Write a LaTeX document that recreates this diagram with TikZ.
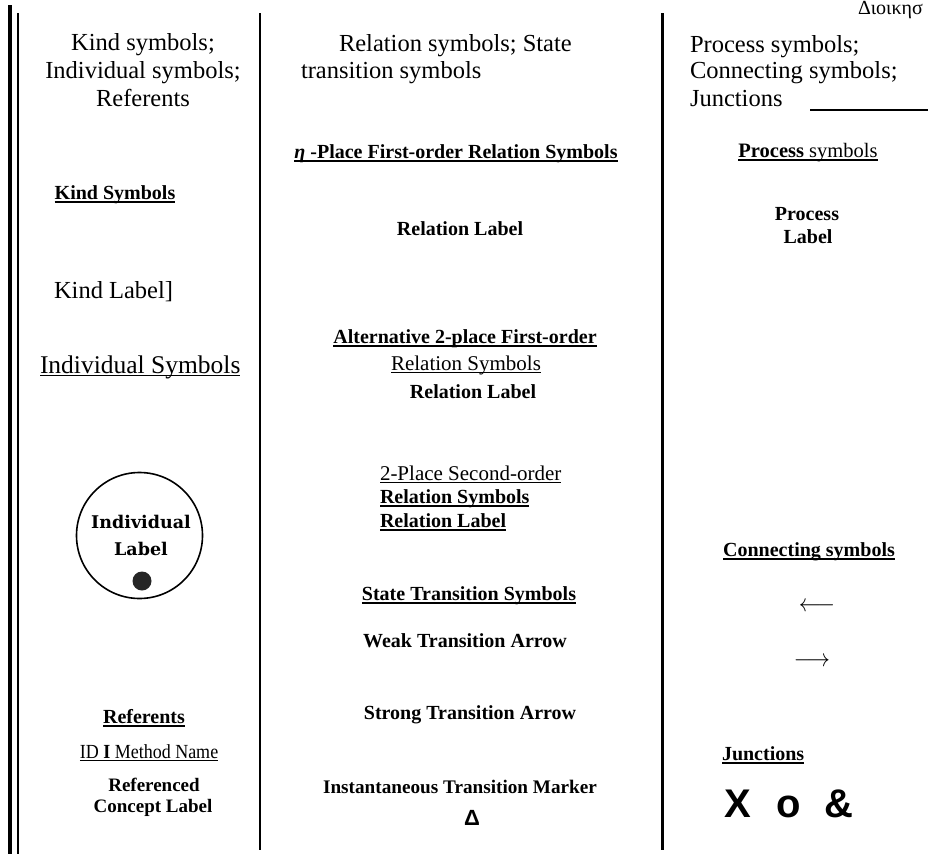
\documentclass[tikz,border=0pt]{standalone}
\usepackage{fontspec}
\usepackage{graphicx}
\setmainfont{Liberation Serif}
\newfontfamily\arialfont{Liberation Sans}
\newfontfamily\slabfont{DejaVu Serif}

% underlines drawn at a fixed distance below the baseline
\newsavebox\ulinebox
\newcommand\ulb[1]{\sbox\ulinebox{#1}\rlap{\rule[-4pt]{\wd\ulinebox}{2pt}}\usebox\ulinebox}
\newcommand\ulr[1]{\sbox\ulinebox{#1}\rlap{\rule[-3.4pt]{\wd\ulinebox}{1.3pt}}\usebox\ulinebox}

\newcommand\hdsize{\fontsize{24.5}{27.5}\selectfont}
\newcommand\bsize{\bfseries\fontsize{20}{22}\selectfont}
\newcommand\rsize{\fontsize{21}{23}\selectfont}

\begin{document}
\begin{tikzpicture}[x=1pt,y=-1pt,
  txt/.style={inner sep=0pt, outer sep=0pt, anchor=base},
  txtw/.style={txt, anchor=base west},
  hd/.style={font=\hdsize},
  bld/.style={font=\bsize},
  reg/.style={font=\rsize},
  colline/.style={line width=2.4pt, line cap=butt},
  junction/.style={txtw, font=\arialfont\bfseries\fontsize{40}{42}\selectfont},
  arrowglyph/.style={inner sep=0pt, outer sep=0pt, anchor=center, font=\fontsize{27}{29}\selectfont}]

\useasboundingbox (0,0) rectangle (935,854);
\fill[white] (0,0) rectangle (935,854);

% column rules
\draw[line width=4pt, line cap=butt] (10.3,5) -- (10.3,854);
\draw[line width=1.8pt, line cap=butt] (17.7,13) -- (17.7,854);
\draw[colline] (259.7,13) -- (259.7,850);
\draw[colline] (662.5,13) -- (662.5,850);

% running text in the top corner
\node[txtw, font=\fontsize{20}{22}\selectfont] (greek) at (858,14) {Διοικησ};

% ---------- headings ----------
\node[txt, hd] (h1a) at (143,50) {Kind symbols;};
\node[txt, hd] (h1b) at (143,78) {Individual symbols;};
\node[txt, hd] (h1c) at (143,106) {Referents};

\node[txtw, hd] (h2a) at (339,51) {Relation symbols; State};
\node[txtw, hd] (h2b) at (301,78) {transition symbols};

\node[txtw, hd] (h3a) at (690,52) {Process symbols;};
\node[txtw, hd] (h3b) at (690,78) {Connecting symbols;};
\node[txtw, hd] (h3c) at (690,106) {Junctions};
\draw[line width=1.3pt] (810,110) -- (928,110);

% ---------- column 1 ----------
\node[txt, bld] (kindsym) at (115,199) {\ulb{Kind Symbols}};
\node[txtw, font=\fontsize{24.5}{26}\selectfont] (kindlab) at (54,298) {Kind Label]};
\node[txtw, font=\fontsize{25.5}{27}\selectfont] (indsym) at (40,373) {\ulr{Individual Symbols}};

\node[circle, draw, line width=1.6pt, minimum size=126pt, inner sep=0pt] (indcirc) at (139.5,535.5) {};
\node[txt, font=\slabfont\bfseries\fontsize{17.5}{19}\selectfont] (indtxta) at (141,528) {Individual};
\node[txt, font=\slabfont\bfseries\fontsize{17.5}{19}\selectfont] (indtxtb) at (141,555) {Label};
\node[circle, fill=black!85, minimum size=19pt, inner sep=0pt] (inddot) at (142,581) {};

\node[txt, bld] (refs) at (144,723) {\ulb{Referents}};
\node[txt, font=\fontsize{20}{22}\selectfont] (idline) at (149,758) {\scalebox{0.9}[1]{\ulr{ID \textbf{I} Method Name}}};
\node[txt, font=\bfseries\fontsize{19}{21}\selectfont] (refca) at (154,791) {Referenced};
\node[txt, font=\bfseries\fontsize{19}{21}\selectfont] (refcb) at (153,812) {Concept Label};

% ---------- column 2 ----------
\node[txt, bld] (etaplace) at (456,158) {\ulb{\textit{η} -Place First-order Relation Symbols}};
\node[txt, bld] (rellaba) at (460,235) {Relation Label};

\node[txt, bld] (alt) at (465,343) {\ulb{Alternative 2-place First-order}};
\node[txt, reg] (altsym) at (466,370) {\ulr{Relation Symbols}};
\node[txt, bld] (rellabb) at (473,398) {Relation Label};

\node[txtw, reg] (second) at (380,480) {\ulr{2-Place Second-order}};
\node[txtw, bld] (secsym) at (380,503) {\ulb{Relation Symbols}};
\node[txtw, bld] (seclab) at (380,527) {\ulb{Relation Label}};

\node[txt, bld] (stsym) at (469,600) {\ulb{State Transition Symbols}};
\node[txt, bld] (weak) at (465,647) {Weak Transition Arrow};
\node[txt, bld] (strong) at (470,719) {Strong Transition Arrow};
\node[txt, font=\bfseries\fontsize{19.2}{21}\selectfont] (inst) at (460,793) {Instantaneous Transition Marker};
\node[txt, font=\arialfont\bfseries\fontsize{22}{24}\selectfont] (delta) at (472,825) {Δ};

% ---------- column 3 ----------
\node[txt, font=\fontsize{20.5}{22}\selectfont] (procsym) at (808,157) {\ulb{\textbf{Process} symbols}};
\node[txt, bld] (proclaba) at (807,220) {Process};
\node[txt, bld] (proclabb) at (808,243) {Label};

\node[txt, bld] (connsym) at (809,556) {\ulb{Connecting symbols}};
\node[arrowglyph] (larrow) at (817,607) {\scalebox{0.9}[1]{$\longleftarrow$}};
\node[arrowglyph] (rarrow) at (812,662) {\scalebox{0.9}[1]{$\longrightarrow$}};

\node[txtw, bld] (junc) at (722,760) {\ulb{Junctions}};
\node[junction] (jx) at (724,817) {X};
\node[junction] (jo) at (776,817) {o};
\node[junction] (jand) at (824,817) {\&};
\end{tikzpicture}
\end{document}
